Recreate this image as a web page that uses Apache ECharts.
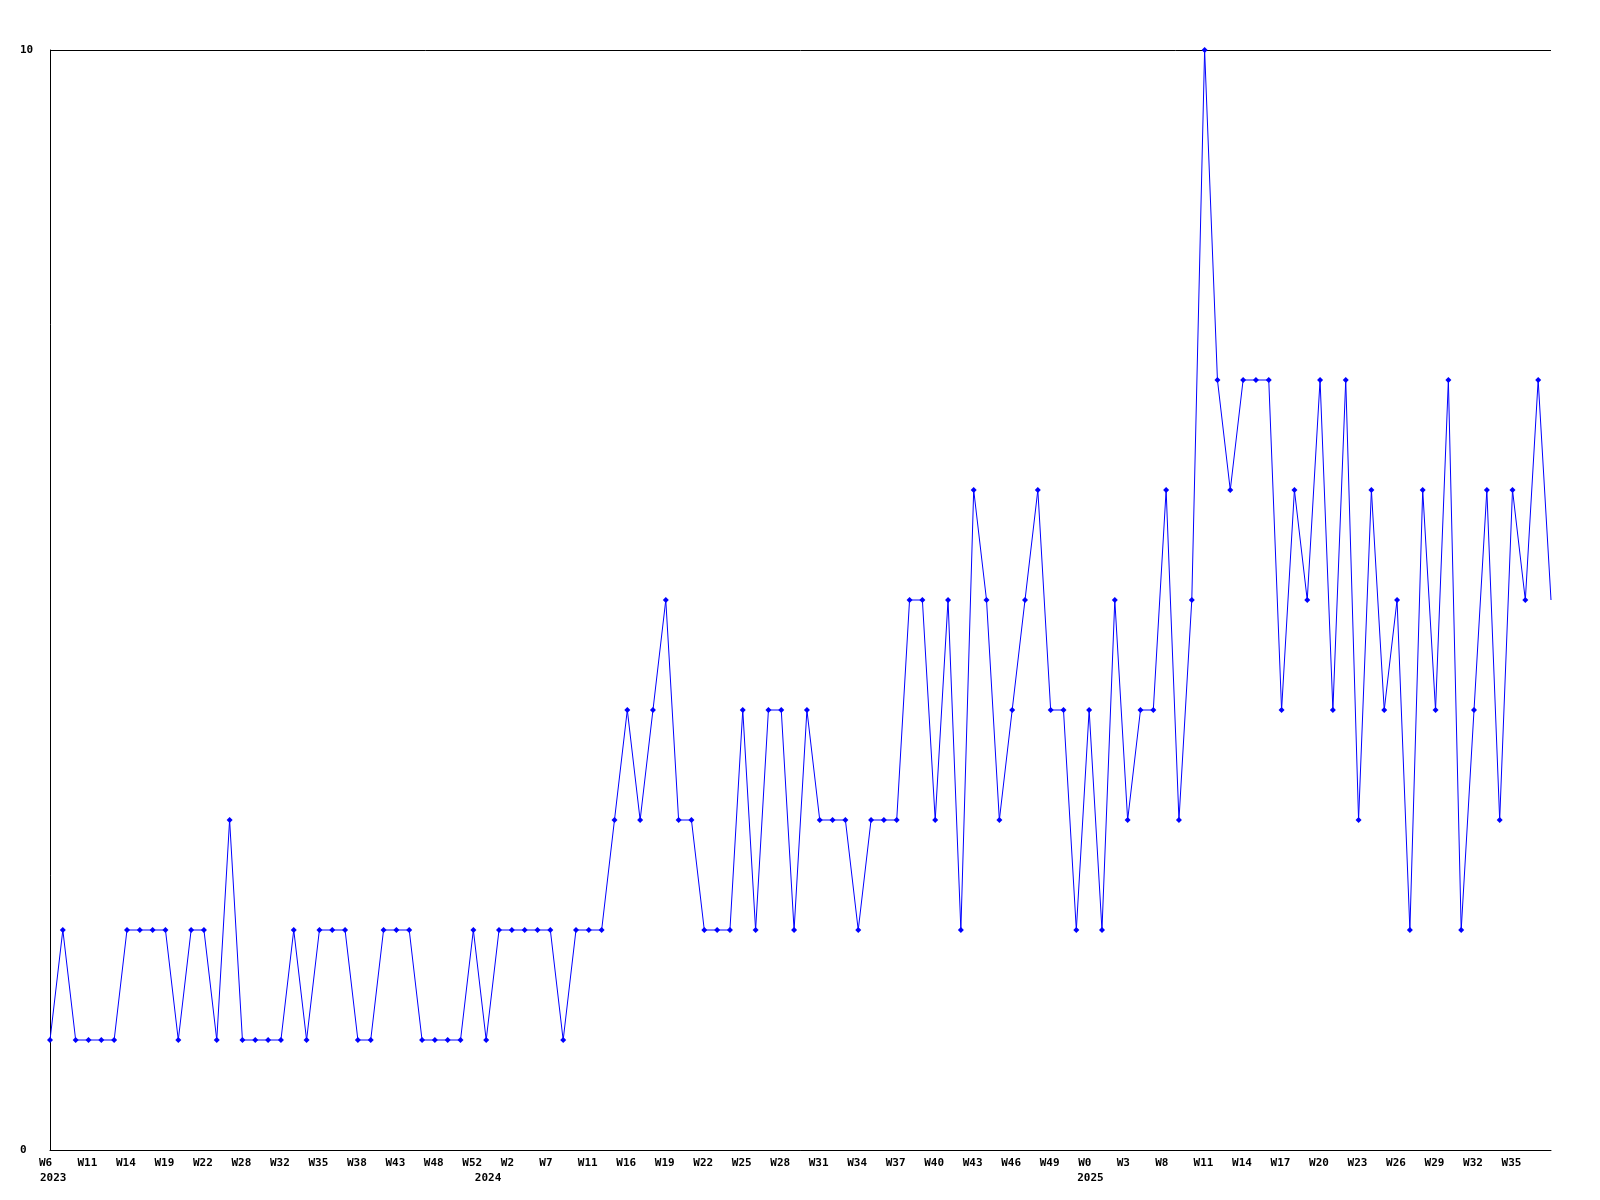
<!DOCTYPE html>
<html>
<head>
<meta charset="utf-8">
<script src="https://cdn.jsdelivr.net/npm/echarts@6/dist/echarts.min.js"></script>
<style>html,body{margin:0;padding:0;background:#fff;}#c{width:1600px;height:1200px;}</style>
</head>
<body>
<div id="c"></div>
<script>
const values = [
  1,2,1,1,1,1,2,2,2,2, 1,2,2,1,3,1,1,1,1,2,
  1,2,2,2,1,1,2,2,2,1, 1,1,1,2,1,2,2,2,2,2,
  1,2,2,2,3,4,3,4,5,3, 3,2,2,2,4,2,4,4,2,4,
  3,3,3,2,3,3,3,5,5,3, 5,2,6,5,3,4,5,6,4,4,
  2,4,2,5,3,4,4,6,3,5, 10,7,6,7,7,7,4,6,5,7,
  4,7,3,6,4,5,2,6,4,7, 2,4,6,3,6,5,7,5
];
const tickLabels = [
  'W6','W11','W14','W19','W22','W28','W32','W35','W38','W43','W48','W52',
  'W2','W7','W11','W16','W19','W22','W25','W28','W31','W34','W37','W40','W43','W46','W49',
  'W0','W3','W8','W11','W14','W17','W20','W23','W26','W29','W32','W35'
];
const yearLabels = ['2023','2024','2025'];
const yearIndex = [0, 36, 81];
const yearShift = [-10, -37, -12];

const categories = values.map((v, i) => (i % 3 === 0 && tickLabels[i / 3] !== undefined ? tickLabels[i / 3] : ''));
const seriesData = values.map((v, i) => (i === values.length - 1 ? { value: v, symbol: 'none' } : v));

const FONT = '"DejaVu Sans Mono", "Liberation Mono", monospace';
const chart = echarts.init(document.getElementById('c'), null, { renderer: 'canvas' });
chart.setOption({
  animation: false,
  backgroundColor: '#ffffff',
  grid: [
    { left: 50, right: 49, top: 50, bottom: 50 },
    { left: 39, right: 60, top: 50, bottom: 50 }
  ],
  xAxis: [
    {
      type: 'category', gridIndex: 0, data: categories, boundaryGap: false,
      axisLine: { show: true, lineStyle: { color: '#000', width: 1 } },
      axisTick: { show: false },
      axisLabel: { show: false },
      splitLine: { show: false }
    },
    {
      type: 'category', gridIndex: 1, data: categories, boundaryGap: false,
      axisLine: { show: false }, axisTick: { show: false }, splitLine: { show: false },
      axisLabel: {
        show: true, interval: 2, align: 'left', margin: 7,
        color: '#000', fontFamily: FONT, fontWeight: 'bold', fontSize: 11, lineHeight: 13
      }
    }
  ],
  yAxis: [
    {
      type: 'value', gridIndex: 0, min: 0, max: 10, interval: 10,
      axisLine: { show: true, lineStyle: { color: '#000', width: 1 } },
      axisTick: { show: false },
      splitLine: { show: true, lineStyle: { color: '#000', width: 1 } },
      axisLabel: {
        align: 'left', margin: 30, color: '#000',
        fontFamily: FONT, fontWeight: 'bold', fontSize: 11
      }
    },
    { type: 'value', gridIndex: 1, min: 0, max: 10, show: false }
  ],
  series: [{
    type: 'line',
    xAxisIndex: 0, yAxisIndex: 0,
    data: seriesData,
    symbol: 'diamond',
    symbolSize: 6,
    showAllSymbol: true,
    lineStyle: { color: '#0000ff', width: 1 },
    itemStyle: { color: '#0000ff' },
    emphasis: { disabled: true }
  }]
});

const y0 = chart.convertToPixel({ yAxisIndex: 0 }, 0);
chart.setOption({
  graphic: yearLabels.map((t, j) => ({
    type: 'text',
    x: chart.convertToPixel({ xAxisIndex: 0 }, yearIndex[j]) + yearShift[j],
    y: y0 + 28.5,
    style: {
      text: t, fill: '#000',
      font: 'bold 11px ' + FONT,
      align: 'left', verticalAlign: 'middle'
    }
  }))
});
</script>
</body>
</html>
